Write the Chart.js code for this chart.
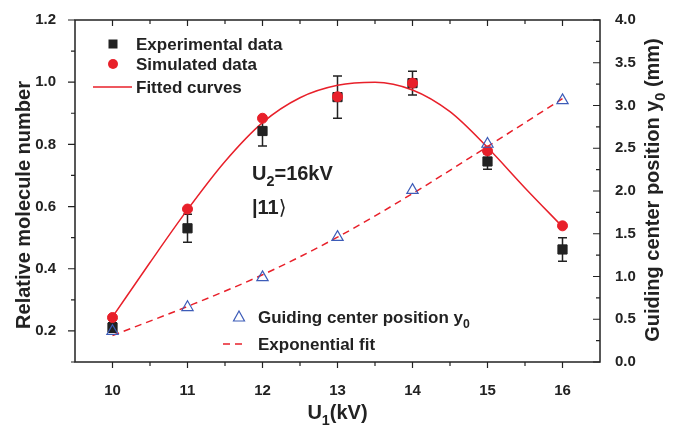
<!DOCTYPE html>
<html>
<head>
<meta charset="utf-8">
<script src="https://cdn.jsdelivr.net/npm/chart.js@4/dist/chart.umd.min.js"></script>
<style>
  html, body { margin: 0; padding: 0; background: #fff; }
  #wrap { width: 675px; height: 426px; }
</style>
</head>
<body>
<div id="wrap"><canvas id="myChart" width="675" height="426"></canvas></div>
<script>
const ctx = document.getElementById('myChart');

// data
const voltages = [10, 11, 12, 13, 14, 15, 16];
const experimental = [0.211, 0.53, 0.843, 0.952, 0.997, 0.745, 0.462];
const experimentalErr = [0.015, 0.045, 0.048, 0.068, 0.038, 0.025, 0.038];
const simulated = [0.243, 0.592, 0.884, 0.953, 0.997, 0.779, 0.538];
const guidingCenter = [0.36, 0.64, 0.99, 1.46, 2.01, 2.55, 3.06];

const fitX = [10, 10.5, 11, 11.5, 12, 12.5, 13, 13.5, 14, 14.5, 15, 15.5, 16];
const fitted = [0.245, 0.42, 0.59, 0.745, 0.87, 0.95, 0.99, 1.0, 0.975, 0.905, 0.79, 0.66, 0.535];
const expFitX = [10, 11, 12, 13, 14, 15, 16];
const expFit = [0.31, 0.65, 1.02, 1.46, 1.97, 2.52, 3.08];

const xTicks = [10, 11, 12, 13, 14, 15, 16];
const yTicks = [0.2, 0.4, 0.6, 0.8, 1.0, 1.2];
const y2Ticks = [0, 0.5, 1, 1.5, 2, 2.5, 3, 3.5, 4];

const RED = '#e8202a';
const BLACK = '#222';
const BLUE = '#3d5cb8';
const FONT = '"Liberation Sans", Arial, sans-serif';

function pts(xs, ys) {
    return xs.map((x, i) => ({x: x, y: ys[i]}));
}

function fixTicks(list) {
    return (scale) => { scale.ticks = list.map(v => ({value: v})); };
}

// text with a subscript part: [[text, isSub], ...]
function drawRich(c, parts, x, y, size, align) {
    let total = 0;
    parts.forEach(p => {
        c.font = 'bold ' + (p[1] ? size * 0.72 : size) + 'px ' + FONT;
        total += c.measureText(p[0]).width;
    });
    let cx = align === 'center' ? x - total / 2 : x;
    c.textAlign = 'left';
    c.textBaseline = 'alphabetic';
    parts.forEach(p => {
        c.font = 'bold ' + (p[1] ? size * 0.72 : size) + 'px ' + FONT;
        c.fillText(p[0], cx, p[1] ? y + size * 0.28 : y);
        cx += c.measureText(p[0]).width;
    });
}

const decorations = {
    id: 'decorations',
    beforeDatasetsDraw(chart) {
        const c = chart.ctx;
        const x = chart.scales.x, y = chart.scales.y;
        c.save();
        c.strokeStyle = BLACK;
        c.lineWidth = 1.5;
        voltages.forEach((v, i) => {
            const px = x.getPixelForValue(v);
            const top = y.getPixelForValue(experimental[i] + experimentalErr[i]);
            const bot = y.getPixelForValue(experimental[i] - experimentalErr[i]);
            c.beginPath();
            c.moveTo(px, top); c.lineTo(px, bot);
            c.moveTo(px - 4.5, top); c.lineTo(px + 4.5, top);
            c.moveTo(px - 4.5, bot); c.lineTo(px + 4.5, bot);
            c.stroke();
        });
        c.restore();
    },
    afterDraw(chart) {
        const c = chart.ctx;
        const a = chart.chartArea;
        const x = chart.scales.x, y = chart.scales.y, y2 = chart.scales.y2;
        c.save();
        // frame
        c.strokeStyle = BLACK;
        c.lineWidth = 1.5;
        c.strokeRect(a.left, a.top, a.right - a.left, a.bottom - a.top);
        c.lineWidth = 1.2;
        c.beginPath();
        for (let v = 10; v <= 16.001; v += 0.5) {
            const px = x.getPixelForValue(v);
            c.moveTo(px, a.bottom); c.lineTo(px, a.bottom + (v % 1 === 0 ? 6 : 4));
            c.moveTo(px, a.top); c.lineTo(px, a.top + (v % 1 === 0 ? 6 : 4));
        }
        for (let v = 0.1; v <= 1.2001; v += 0.1) {
            const py = y.getPixelForValue(v);
            const major = Math.round(v * 10) % 2 === 0;
            c.moveTo(a.left, py); c.lineTo(a.left - (major ? 7 : 4), py);
        }
        for (let v = 0; v <= 4.001; v += 0.25) {
            const py = y2.getPixelForValue(v);
            const major = Math.round(v * 4) % 2 === 0;
            c.moveTo(a.right, py); c.lineTo(a.right - (major ? 7 : 4), py);
        }
        c.stroke();

        // axis titles
        c.fillStyle = BLACK;
        drawRich(c, [['U', false], ['1', true], ['(kV)', false]], (a.left + a.right) / 2, 419, 20, 'center');
        c.save();
        c.translate(30, 205);
        c.rotate(-Math.PI / 2);
        drawRich(c, [['Relative molecule number', false]], 0, 0, 20, 'center');
        c.restore();
        c.save();
        c.translate(659, 190);
        c.rotate(-Math.PI / 2);
        drawRich(c, [['Guiding center position y', false], ['0', true], [' (mm)', false]], 0, 0, 20, 'center');
        c.restore();

        // legend top-left
        c.fillStyle = BLACK;
        c.fillRect(108.5, 39.5, 9, 9);
        c.fillStyle = RED;
        c.beginPath(); c.arc(113, 64, 5, 0, Math.PI * 2); c.fill();
        c.strokeStyle = RED;
        c.lineWidth = 1.5;
        c.beginPath(); c.moveTo(93, 87); c.lineTo(132, 87); c.stroke();
        c.fillStyle = BLACK;
        drawRich(c, [['Experimental data', false]], 136, 50, 17, 'left');
        drawRich(c, [['Simulated data', false]], 136, 70, 17, 'left');
        drawRich(c, [['Fitted curves', false]], 136, 93, 17, 'left');

        // legend bottom
        c.strokeStyle = BLUE;
        c.lineWidth = 1.2;
        c.beginPath();
        c.moveTo(239, 311); c.lineTo(244.5, 321); c.lineTo(233.5, 321); c.closePath();
        c.stroke();
        c.strokeStyle = RED;
        c.lineWidth = 1.5;
        c.setLineDash([7, 5]);
        c.beginPath(); c.moveTo(223, 344); c.lineTo(247, 344); c.stroke();
        c.setLineDash([]);
        drawRich(c, [['Guiding center position y', false], ['0', true]], 258, 323, 17, 'left');
        drawRich(c, [['Exponential fit', false]], 258, 350, 17, 'left');

        // annotation
        drawRich(c, [['U', false], ['2', true], ['=16kV', false]], 252, 180, 20, 'left');
        c.font = 'bold 20px ' + FONT;
        c.fillText('|11', 252, 214);
        const w = c.measureText('|11').width;
        c.font = '20px "DejaVu Sans", ' + FONT;
        c.fillText('\u27E9', 252 + w, 214);
        c.restore();
    }
};

const tickFont = {family: FONT, size: 15, weight: 'bold'};

new Chart(ctx, {
    type: 'scatter',
    data: {
        datasets: [
            {
                label: 'Guiding center position y0',
                data: pts(voltages, guidingCenter),
                yAxisID: 'y2',
                pointStyle: 'triangle',
                pointRadius: 6.5,
                pointBorderColor: BLUE,
                pointBackgroundColor: 'rgba(0,0,0,0)',
                pointBorderWidth: 1.2,
                order: 0
            },
            {
                label: 'Simulated data',
                data: pts(voltages, simulated),
                yAxisID: 'y',
                pointStyle: 'circle',
                pointRadius: 5,
                pointBackgroundColor: RED,
                pointBorderColor: RED,
                order: 1
            },
            {
                label: 'Experimental data',
                data: pts(voltages, experimental),
                yAxisID: 'y',
                pointStyle: 'rect',
                pointRadius: 6.5,
                pointBackgroundColor: BLACK,
                pointBorderColor: BLACK,
                order: 2
            },
            {
                label: 'Fitted curves',
                type: 'line',
                data: pts(fitX, fitted),
                yAxisID: 'y',
                borderColor: RED,
                borderWidth: 1.5,
                pointRadius: 0,
                cubicInterpolationMode: 'monotone',
                fill: false,
                order: 3
            },
            {
                label: 'Exponential fit',
                type: 'line',
                data: pts(expFitX, expFit),
                yAxisID: 'y2',
                borderColor: RED,
                borderWidth: 1.5,
                borderDash: [7, 5],
                pointRadius: 0,
                cubicInterpolationMode: 'monotone',
                fill: false,
                order: 4
            }
        ]
    },
    options: {
        responsive: false,
        animation: false,
        layout: {padding: {top: 17, left: 0, right: 0, bottom: 0}},
        plugins: {legend: {display: false}, tooltip: {enabled: false}},
        scales: {
            x: {
                type: 'linear',
                min: 9.5, max: 16.5,
                afterBuildTicks: fixTicks(xTicks),
                afterFit: (s) => { s.height = 64; },
                grid: {display: false},
                border: {display: false},
                ticks: {font: tickFont, color: BLACK, padding: 12}
            },
            y: {
                type: 'linear',
                position: 'left',
                min: 0.1, max: 1.2,
                afterBuildTicks: fixTicks(yTicks),
                afterFit: (s) => { s.width = 75; },
                grid: {display: false},
                border: {display: false},
                ticks: {font: tickFont, color: BLACK, padding: 11, callback: (v) => v.toFixed(1)}
            },
            y2: {
                type: 'linear',
                position: 'right',
                min: 0, max: 4,
                afterBuildTicks: fixTicks(y2Ticks),
                afterFit: (s) => { s.width = 75; },
                grid: {display: false},
                border: {display: false},
                ticks: {font: tickFont, color: BLACK, padding: 7, callback: (v) => v.toFixed(1)}
            }
        }
    },
    plugins: [decorations]
});
</script>
</body>
</html>
